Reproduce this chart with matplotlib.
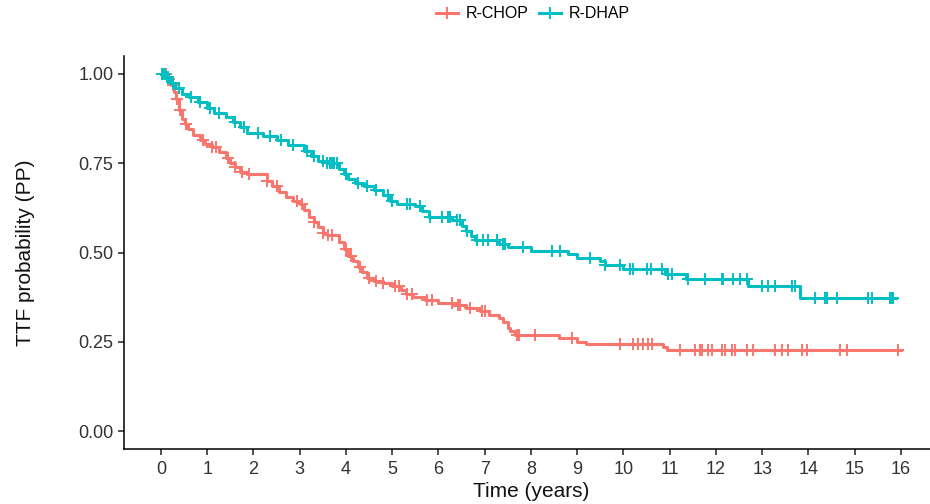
import matplotlib.pyplot as plt
import numpy as np

plt.rcParams['font.family'] = ['Liberation Sans', 'DejaVu Sans']

# step curves (time in years, survival probability)
chop_t = [0, 0.15, 0.22, 0.28, 0.33, 0.38, 0.45, 0.52, 0.58, 0.7, 0.85, 0.95, 1.1, 1.25, 1.4, 1.5,
          1.6, 1.7, 1.85, 2.3, 2.4, 2.55, 2.7, 2.85, 3.0, 3.1, 3.2, 3.3, 3.4, 3.5, 3.6, 3.85, 3.95,
          4.05, 4.15, 4.25, 4.35, 4.45, 4.6, 4.8, 5.0, 5.2, 5.3, 5.45, 5.7, 6.0, 6.3, 6.6, 6.9, 7.1,
          7.3, 7.4, 7.5, 7.55, 7.65, 8.6, 9.0, 9.2, 10.85, 10.95, 16.0]
chop_s = [1.0, 0.985, 0.97, 0.95, 0.93, 0.9, 0.875, 0.86, 0.845, 0.83, 0.815, 0.805, 0.795, 0.78, 0.765, 0.75,
          0.74, 0.725, 0.72, 0.7, 0.685, 0.67, 0.655, 0.645, 0.635, 0.62, 0.6, 0.585, 0.57, 0.555, 0.55, 0.53, 0.51,
          0.49, 0.475, 0.46, 0.445, 0.43, 0.42, 0.415, 0.405, 0.395, 0.385, 0.375, 0.368, 0.36, 0.352, 0.345, 0.335, 0.325,
          0.316, 0.305, 0.29, 0.28, 0.27, 0.262, 0.25, 0.245, 0.236, 0.227, 0.227]

dhap_t = [0, 0.1, 0.2, 0.3, 0.45, 0.6, 0.8, 1.0, 1.15, 1.4, 1.55, 1.7, 1.85, 2.2, 2.5, 2.75, 3.1, 3.25,
          3.4, 3.6, 3.85, 3.95, 4.05, 4.2, 4.4, 4.6, 4.8, 4.95, 5.1, 5.5, 5.65, 5.8, 6.3, 6.5, 6.6, 6.7,
          6.8, 7.3, 7.5, 8.0, 8.8, 9.0, 9.5, 9.6, 10.0, 10.9, 11.35, 12.7, 13.82, 15.9]
dhap_s = [1.0, 0.99, 0.975, 0.96, 0.945, 0.935, 0.92, 0.905, 0.89, 0.88, 0.865, 0.85, 0.835, 0.825, 0.815, 0.8, 0.785, 0.77,
          0.755, 0.75, 0.735, 0.72, 0.705, 0.695, 0.685, 0.675, 0.66, 0.645, 0.635, 0.63, 0.615, 0.6, 0.59, 0.575, 0.56, 0.545,
          0.535, 0.525, 0.515, 0.505, 0.495, 0.485, 0.475, 0.465, 0.455, 0.44, 0.425, 0.406, 0.374, 0.374]

# censoring times
chop_cens = [0.05, 0.1, 0.18, 0.25, 0.35, 0.42, 0.55, 0.9, 1.1, 1.2, 1.45, 1.6, 1.75, 1.9, 2.3, 2.5, 2.95,
             3.05, 3.3, 3.5, 3.62, 3.7, 4.0, 4.1, 4.3, 4.5, 4.65, 4.8, 5.05, 5.15, 5.32, 5.43, 5.75, 5.86,
             6.29, 6.42, 6.46, 6.68, 6.94, 7.0, 7.7, 7.75, 8.09, 8.89, 9.92, 10.2, 10.32, 10.43, 10.53,
             10.62, 11.22, 11.55, 11.65, 11.7, 11.83, 11.91, 12.13, 12.2, 12.35, 12.41, 12.67, 12.8,
             13.28, 13.43, 13.56, 13.86, 13.97, 14.68, 14.83, 15.94]
dhap_cens = [0.02, 0.05, 0.08, 0.12, 0.15, 0.25, 0.4, 0.65, 0.85, 1.05, 1.25, 1.6, 1.8, 2.1, 2.35, 2.6, 2.85,
             3.15, 3.3, 3.5, 3.6, 3.65, 3.7, 3.75, 3.8, 4.0, 4.25, 4.45, 4.65, 4.9, 5.0, 5.32, 5.38, 5.6,
             5.82, 6.08, 6.21, 6.25, 6.4, 6.46, 6.62, 6.83, 6.96, 7.07, 7.26, 7.39, 7.44, 7.83, 8.45,
             8.63, 9.28, 9.6, 9.92, 10.14, 10.2, 10.5, 10.6, 10.83, 10.96, 11.05, 11.39, 11.76, 12.13,
             12.15, 12.37, 12.52, 12.67, 12.99, 13.12, 13.28, 13.64, 13.71, 14.14, 14.36, 14.4, 14.62,
             15.29, 15.37, 15.76, 15.8, 15.83]

groups = ['R-CHOP', 'R-DHAP']
colors = ['#F8766D', '#00BFC4']


def step_at(t, s, c):
    idx = np.searchsorted(t, c, side='right') - 1
    return np.asarray(s)[idx]


fig = plt.figure(figsize=(9.3, 5.04), dpi=100)
ax = fig.add_axes([124 / 930, 1 - 449 / 504, 1 - 124 / 930, 393 / 504])

series = [(chop_t, chop_s, chop_cens), (dhap_t, dhap_s, dhap_cens)]
handles = []
for (t, s, cens), name, col in zip(series, groups, colors):
    ax.step(t, s, where='post', color=col, lw=2.2)
    cy = step_at(t, s, cens)
    ax.plot(cens, cy, ls='none', marker='+', ms=8, mew=1.4, color=col)
    h, = ax.plot([], [], color=col, lw=2.2, marker='+', ms=8, mew=1.4, label=name)
    handles.append(h)

ax.set_xlim(-0.8, 16.63)
ax.set_ylim(-0.05, 1.05)
ax.set_xticks(range(0, 17))
ax.set_yticks([0, 0.25, 0.5, 0.75, 1.0])
ax.set_yticklabels(['0.00', '0.25', '0.50', '0.75', '1.00'])
ax.spines['top'].set_visible(False)
ax.spines['right'].set_visible(False)
ax.spines['left'].set_linewidth(1.1)
ax.spines['bottom'].set_linewidth(1.1)
ax.tick_params(length=4.5, width=1.1, labelsize=13, colors='#222222', labelcolor='#333333')
ax.tick_params(axis='x', pad=4)
ax.tick_params(axis='y', pad=3)

ax.set_xlabel('Time (years)', fontsize=15, color='#111111')
ax.xaxis.set_label_coords((531 - 124) / (930 - 124), -0.083)
ax.set_ylabel('TTF probability (PP)', fontsize=15, color='#111111')
ax.yaxis.set_label_coords((35 - 124) / (930 - 124), 0.5)

fig.legend(handles=handles, loc='center', bbox_to_anchor=(533 / 930, 1 - 14 / 504), ncol=2,
           frameon=False, fontsize=11.5, handlelength=1.4, columnspacing=0.6, handletextpad=0.5)

fig.savefig('out.png', dpi=100)
